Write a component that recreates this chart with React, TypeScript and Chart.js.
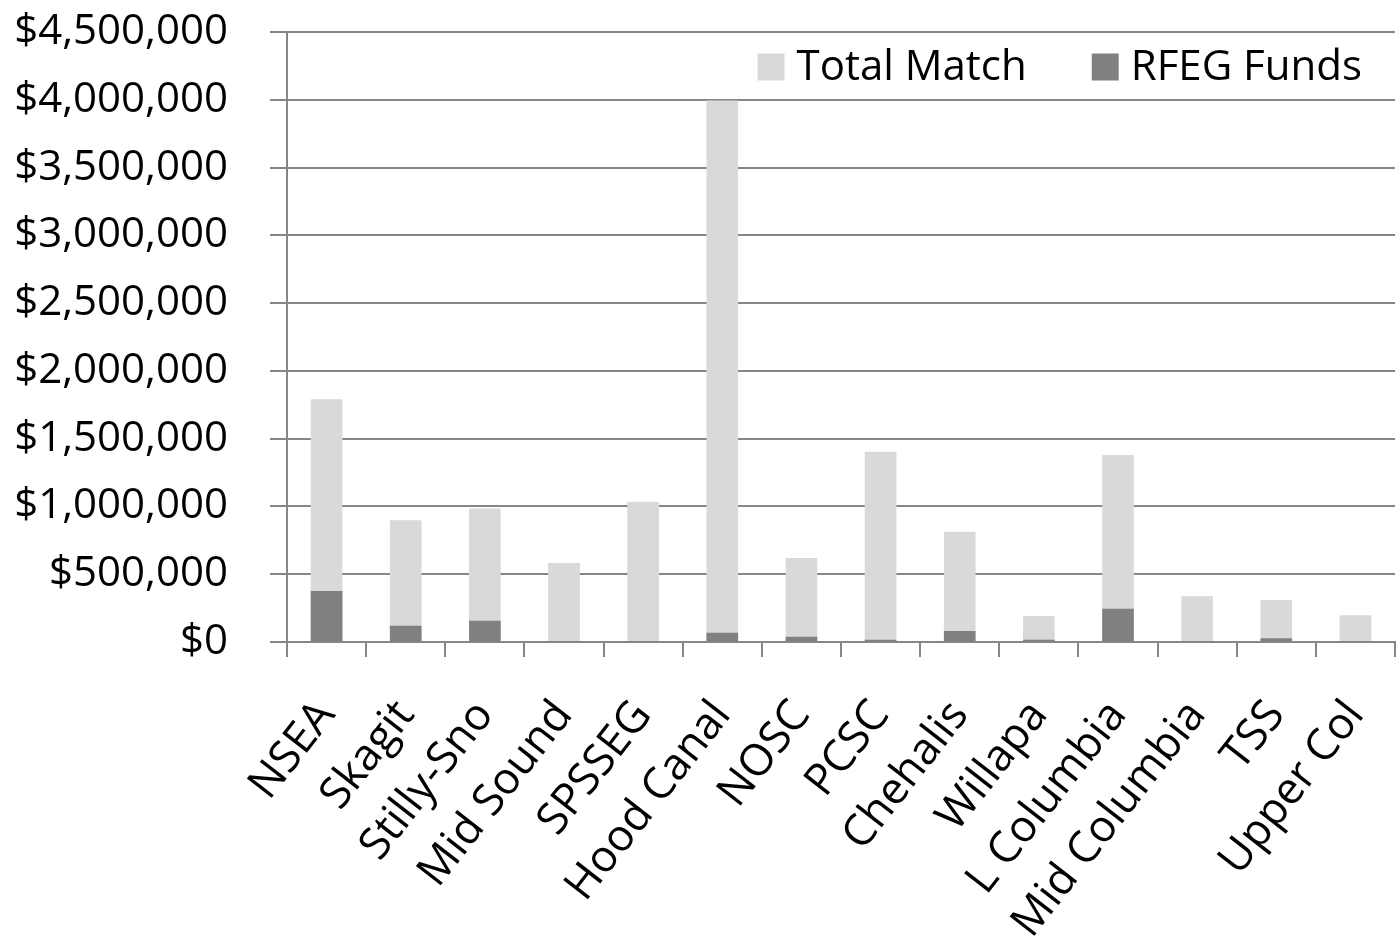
import React, { useEffect, useRef } from "react";
import { Chart, registerables } from "chart.js";

Chart.register(...registerables);

const categories = [
  "NSEA", "Skagit", "Stilly-Sno", "Mid Sound", "SPSSEG", "Hood Canal", "NOSC",
  "PCSC", "Chehalis", "Willapa", "L Columbia", "Mid Columbia", "TSS", "Upper Col",
];
const totalMatch = [
  1790000, 899000, 985000, 583000, 1034000, 3995000, 620000,
  1404000, 814000, 192000, 1380000, 337000, 309000, 198000,
];
const rfegFunds = [
  377000, 120000, 157000, 0, 0, 68000, 38000,
  16000, 82000, 17000, 245000, 0, 27000, 0,
];
const seriesNames = ["Total Match", "RFEG Funds"];
const seriesColors = ["#d9d9d9", "#808080"];
const yTicksMax = 4500000;
const yTickStep = 500000;

const FONT_FAMILY = "'Open Sans', 'Liberation Sans', Arial, sans-serif";
const FONT_SIZE = 42;

const legendPlugin = {
  id: "insideLegend",
  afterDraw(chart: any) {
    const { ctx, chartArea } = chart;
    ctx.save();
    ctx.font = `${FONT_SIZE}px ${FONT_FAMILY}`;
    ctx.textBaseline = "middle";
    ctx.textAlign = "left";
    const box = 27;
    const gapBoxText = 12;
    const gapItems = 65;
    const cy = chartArea.top + 35;
    const widths = seriesNames.map((n) => ctx.measureText(n).width);
    let total = 0;
    widths.forEach((w, i) => {
      total += box + gapBoxText + w;
      if (i < widths.length - 1) total += gapItems;
    });
    let x = chartArea.right - 33 - total;
    seriesNames.forEach((name, i) => {
      ctx.fillStyle = seriesColors[i];
      ctx.fillRect(x, cy - box / 2, box, box);
      x += box + gapBoxText;
      ctx.fillStyle = "#000";
      ctx.fillText(name, x, cy + 1);
      x += widths[i] + gapItems;
    });
    ctx.restore();
  },
};

export default function App() {
  const ref = useRef<HTMLCanvasElement>(null);
  useEffect(() => {
    document.body.style.margin = "0";
    const ctx = ref.current!;
    const chart = new Chart(ctx, {
      type: "bar",
      data: {
        labels: categories,
        datasets: [
          {
            label: seriesNames[0],
            data: totalMatch,
            backgroundColor: seriesColors[0],
            order: 1,
          },
          {
            label: seriesNames[1],
            data: rfegFunds,
            backgroundColor: seriesColors[1],
            order: 0,
          },
        ],
      },
      plugins: [legendPlugin],
      options: {
        animation: false,
        responsive: false,
        maintainAspectRatio: false,
        layout: { padding: { top: 32, right: 4, left: 0, bottom: 0 } },
        datasets: { bar: { barPercentage: 0.4, categoryPercentage: 1 } },
        plugins: {
          tooltip: { enabled: false },
          legend: { display: false },
        },
        scales: {
          x: {
            stacked: true,
            grid: {
              drawOnChartArea: false,
              drawTicks: true,
              tickLength: 15,
              color: "#868686",
              lineWidth: 2,
              offset: true,
            },
            border: { color: "#868686", width: 2 },
            ticks: {
              font: { family: FONT_FAMILY, size: 44 },
              color: "#000",
              minRotation: 52,
              maxRotation: 52,
              autoSkip: false,
              padding: 34,
            },
            afterFit: (scale: any) => {
              scale.height = 300;
              scale.paddingLeft = 0;
              scale.paddingRight = 0;
            },
          },
          y: {
            stacked: false,
            min: 0,
            max: yTicksMax,
            ticks: {
              stepSize: yTickStep,
              font: { family: FONT_FAMILY, size: FONT_SIZE },
              color: "#000",
              padding: 42,
              callback: (v: any) => "$" + Number(v).toLocaleString("en-US"),
            },
            grid: {
              color: "#868686",
              lineWidth: 2,
              tickLength: 17,
              drawTicks: true,
            },
            border: { color: "#868686", width: 2 },
            afterFit: (scale: any) => {
              scale.width = 287;
              scale.paddingTop = 0;
              scale.paddingBottom = 0;
            },
          },
        },
      },
    });
    return () => chart.destroy();
  }, []);
  return (
    <div style={{ width: 1399, height: 942 }}>
      <canvas ref={ref} width={1399} height={942} style={{ display: "block" }} />
    </div>
  );
}
